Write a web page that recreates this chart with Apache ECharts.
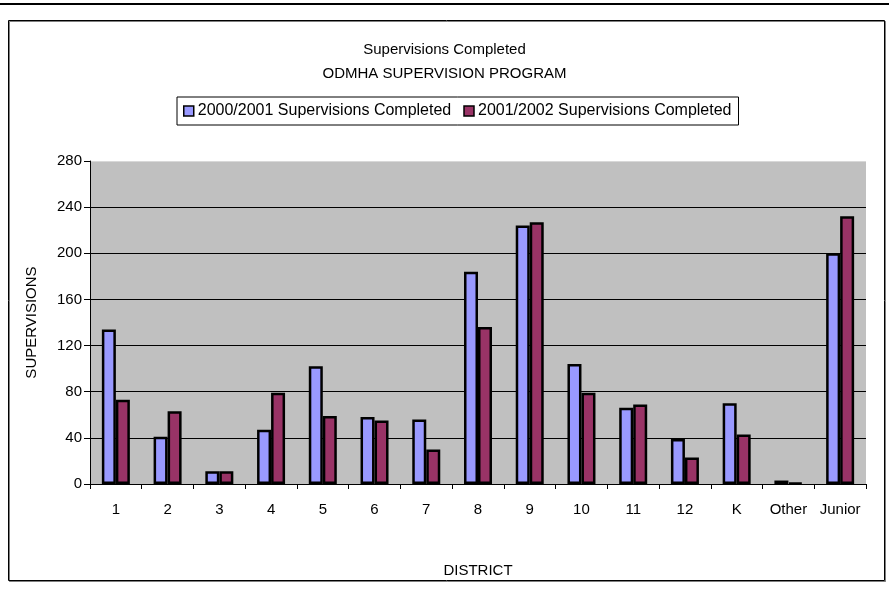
<!DOCTYPE html>
<html>
<head>
<meta charset="utf-8">
<script src="https://cdn.jsdelivr.net/npm/echarts@6/dist/echarts.min.js"></script>
<style>
html,body{margin:0;padding:0;background:#fff;}
#chart{width:889px;height:601px;}
</style>
</head>
<body>
<div id="chart"></div>
<script>
var categories = ['1','2','3','4','5','6','7','8','9','10','11','12','K','Other','Junior'];
var series2000 = [134, 41, 11, 47, 102, 58, 56, 184, 224, 104, 66, 39, 70, 3, 200];
var series2001 = [73, 63, 11, 79, 59, 55, 30, 136, 227, 79, 69, 23, 43, 1, 232];
var seriesNames = ['2000/2001 Supervisions Completed', '2001/2002 Supervisions Completed'];
var yTicks = [0, 40, 80, 120, 160, 200, 240, 280];

var FONT = '"Liberation Sans", Arial, sans-serif';
var chart = echarts.init(document.getElementById('chart'), null, {renderer: 'canvas'});
chart.setOption({
  backgroundColor: '#fff',
  animation: false,
  textStyle: {fontFamily: FONT},
  graphic: [
    {type: 'rect', shape: {x: 0, y: 3, width: 889, height: 2}, style: {fill: '#000'}, z: 100},
    {type: 'rect', shape: {x: 8.5, y: 20.5, width: 876, height: 560}, style: {fill: null, stroke: '#000', lineWidth: 1, shadowColor: 'rgba(0,0,0,0.5)', shadowOffsetX: 1, shadowOffsetY: 1, shadowBlur: 0}, z: 100}
  ],
  title: {
    text: 'Supervisions Completed\nODMHA SUPERVISION PROGRAM',
    left: 'center',
    top: 38,
    padding: 0,
    itemGap: 0,
    textStyle: {fontFamily: FONT, fontSize: 15, fontWeight: 'normal', color: '#000', lineHeight: 24}
  },
  legend: {
    data: seriesNames,
    left: 177,
    top: 97,
    padding: [6, 7, 6, 6],
    itemGap: 12,
    itemWidth: 10,
    itemHeight: 10,
    borderColor: '#000',
    borderWidth: 1,
    backgroundColor: '#fff',
    icon: 'rect',
    selectedMode: false,
    textStyle: {fontFamily: FONT, fontSize: 16, color: '#000', padding: [0, 0, 0, -1]},
    itemStyle: {borderColor: '#000', borderWidth: 1.5}
  },
  grid: {
    left: 90, right: 23, top: 161, bottom: 117,
    show: true, backgroundColor: '#C0C0C0', borderWidth: 0,
    containLabel: false
  },
  xAxis: {
    type: 'category',
    data: categories,
    name: 'DISTRICT',
    nameLocation: 'middle',
    nameGap: 79,
    nameTextStyle: {fontFamily: FONT, fontSize: 15, color: '#000'},
    axisLine: {show: true, lineStyle: {color: '#000', width: 1}},
    axisTick: {show: true, alignWithLabel: false, length: 5, lineStyle: {color: '#000'}},
    axisLabel: {fontFamily: FONT, fontSize: 15, color: '#000', margin: 18, interval: 0},
    splitLine: {show: false}
  },
  yAxis: {
    type: 'value',
    min: 0,
    max: 280,
    interval: 40,
    name: 'SUPERVISIONS',
    nameLocation: 'middle',
    nameGap: 51,
    nameRotate: 90,
    nameTextStyle: {fontFamily: FONT, fontSize: 15, color: '#000'},
    axisLine: {show: true, lineStyle: {color: '#000', width: 1}},
    axisTick: {show: true, length: 6, lineStyle: {color: '#000'}},
    axisLabel: {fontFamily: FONT, fontSize: 15, color: '#000', margin: 8,
      formatter: function (v) { return yTicks.indexOf(v) >= 0 ? String(v) : ''; }},
    splitLine: {show: true, lineStyle: {color: ['#000','#000','#000','#000','#000','#000','#000','#d8d8d8'], width: 1}}
  },
  series: [
    {
      name: seriesNames[0], type: 'bar', data: series2000,
      barWidth: 14, barGap: '0%',
      itemStyle: {color: '#9999FF', borderColor: '#000', borderWidth: 2.5}
    },
    {
      name: seriesNames[1], type: 'bar', data: series2001,
      barWidth: 14, barGap: '0%',
      itemStyle: {color: '#993366', borderColor: '#000', borderWidth: 2.5}
    }
  ]
});
</script>
</body>
</html>
